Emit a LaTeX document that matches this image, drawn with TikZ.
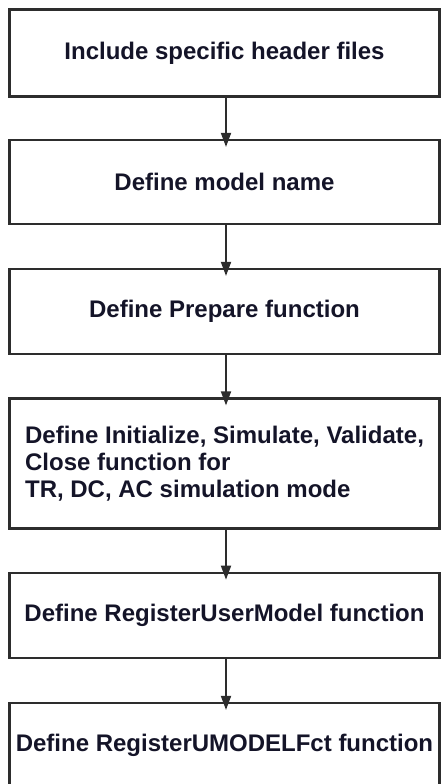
\documentclass[tikz,border=0pt]{standalone}
\usepackage{fontspec}
\setmainfont{Liberation Sans}
\usetikzlibrary{arrows.meta}
\definecolor{boxline}{RGB}{45,45,45}
\definecolor{boxtext}{RGB}{20,20,40}
\begin{document}
\begin{tikzpicture}[x=1pt,y=1pt,
  stepbox/.style={draw=boxline,line width=2.2pt,minimum width=430pt,inner sep=0pt,
    text=boxtext,font=\bfseries\fontsize{24}{27}\selectfont},
  flow/.style={draw=boxline,line width=1.8pt,-{Triangle[width=10pt,length=14pt]},shorten >=-8pt}]
\useasboundingbox (0,0) rectangle (441,-784);
\node[stepbox,minimum height=87pt] (incl) at (224.5,-53) {Include specific header files};
\node[stepbox,minimum height=84pt] (name) at (224.5,-182) {Define model name};
\node[stepbox,minimum height=85pt] (prep) at (224.5,-311.5) {Define Prepare function};
\node[stepbox,minimum height=130pt,align=left] (modes) at (224.5,-463.5)
  {Define Initialize, Simulate, Validate,\\Close function for\\TR, DC, AC simulation mode};
\node[stepbox,minimum height=85.5pt] (reg) at (224.5,-615.5) {Define RegisterUserModel function};
\node[stepbox,minimum height=84pt] (regfct) at (224.5,-745) {Define RegisterUMODELFct function};
\foreach \a/\b in {incl/name,name/prep,prep/modes,modes/reg,reg/regfct}
  \draw[flow] ([xshift=1.5pt]\a.south) -- ([xshift=1.5pt]\b.north);
\end{tikzpicture}
\end{document}
